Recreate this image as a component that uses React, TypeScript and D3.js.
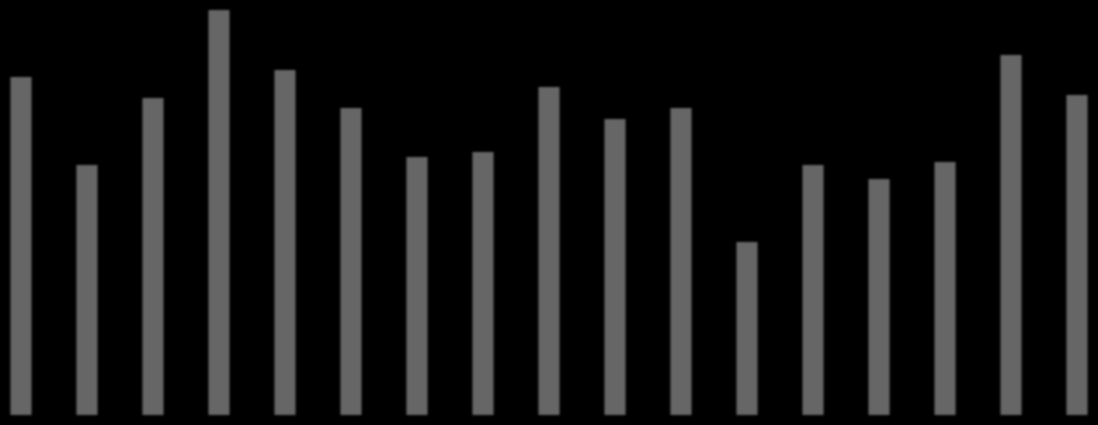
import { useEffect, useRef } from 'react';
import * as d3 from 'd3';

const categories = ['A', 'B', 'C', 'D', 'E', 'F', 'G', 'H', 'I', 'J', 'K', 'L', 'M', 'N', 'O', 'P', 'Q'];
const values = [338, 250, 317, 405, 345, 307, 258, 263, 328, 296, 307, 173, 250, 236, 253, 360, 320];

const W = 1098;
const H = 425;

export default function App() {
  const ref = useRef<SVGSVGElement>(null);

  useEffect(() => {
    if (!ref.current) return;
    const svg = d3.select(ref.current);
    svg.selectAll('*').remove();

    const x = d3.scaleBand<string>()
      .domain(categories)
      .range([0, W])
      .paddingInner(0.68)
      .paddingOuter(0.158);

    const y = d3.scaleLinear()
      .domain([0, d3.max(values) as number])
      .range([415, 10]);

    svg.append('rect').attr('width', W).attr('height', H).attr('fill', '#000');

    // soft edges
    svg.append('defs')
      .append('filter')
      .attr('id', 'soft')
      .append('feGaussianBlur')
      .attr('stdDeviation', 1.2);

    svg.append('g')
      .attr('filter', 'url(#soft)')
      .selectAll('rect')
      .data(values)
      .enter()
      .append('rect')
      .attr('x', (_d, i) => x(categories[i]) as number)
      .attr('y', d => y(d))
      .attr('width', x.bandwidth())
      .attr('height', d => y(0) - y(d))
      .attr('fill', '#666666');
  }, []);

  return (
    <svg
      ref={ref}
      width={W}
      height={H}
      style={{ position: 'absolute', left: 0, top: 0, display: 'block' }}
    />
  );
}
